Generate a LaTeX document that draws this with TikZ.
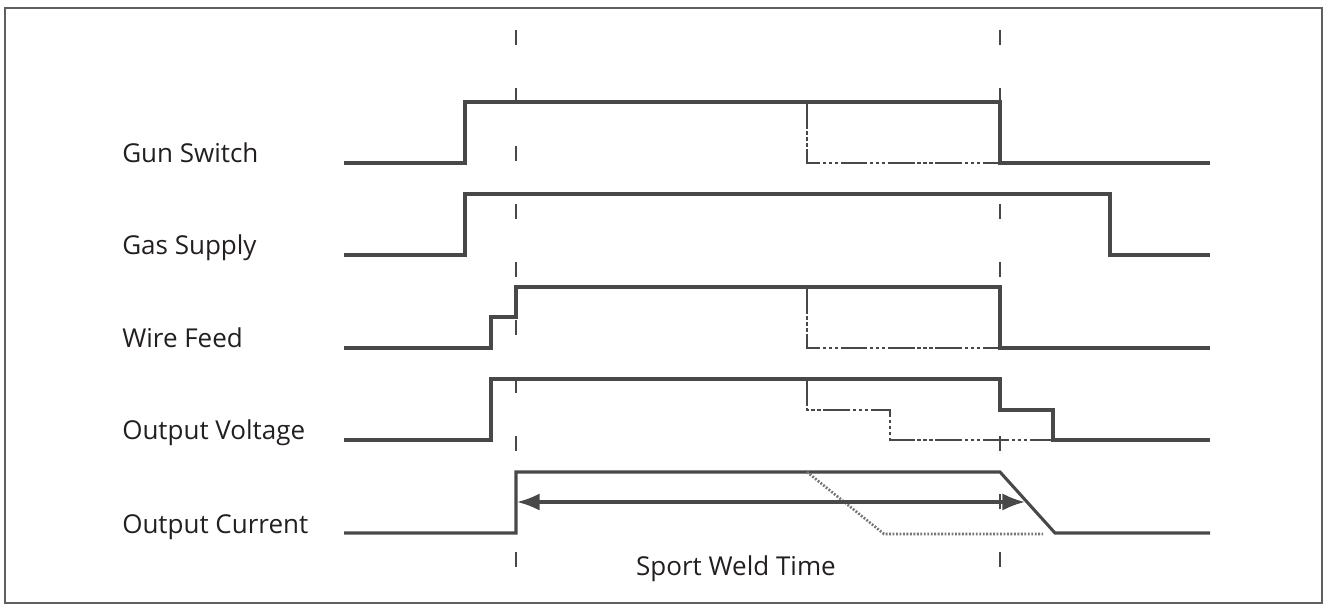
\documentclass[tikz,border=0pt]{standalone}
\usepackage{fontspec}
\setmainfont{Open Sans}
\usepackage{tikz}
\usetikzlibrary{arrows.meta}
\definecolor{sigdark}{RGB}{72, 72, 72}
\definecolor{framegray}{RGB}{95, 95, 95}
\definecolor{textdark}{RGB}{35, 31, 32}

\begin{document}
\begin{tikzpicture}[x=0.75pt, y=-0.75pt,
  signal/.style={sigdark, line width=2.3pt},
  alt/.style={sigdark, line width=2pt, dash pattern=on 20pt off 2pt on 2.5pt off 2pt on 2.5pt off 2pt on 2.5pt off 2pt},
  altdot/.style={sigdark!75, line width=2pt, dash pattern=on 1.4pt off 1.2pt},
  marker/.style={sigdark, line width=1.6pt, dash pattern=on 11.25pt off 32.25pt},
  lbl/.style={anchor=base west, inner sep=0pt, textdark, font=\fontsize{19.5}{22}\selectfont}]
\useasboundingbox (0,0) rectangle (1328,609);
% Frame
\draw[framegray, line width=0.8pt] (5,8) rectangle (1322,603);

% Timing markers
\draw[marker] (516,30) -- (516,567);
\draw[marker] (1000,30) -- (1000,567);

% Labels
\node[lbl] (gunlbl) at (122,163) {Gun Switch};
\node[lbl] (gaslbl) at (122,255) {Gas Supply};
\node[lbl] (wirelbl) at (122,348) {Wire Feed};
\node[lbl] (voltlbl) at (122,440) {Output Voltage};
\node[lbl] (currlbl) at (122,533) {Output Current};

% Gun switch
\draw[signal] (344,163) -- (465,163) -- (465,102) -- (1000,102) -- (1000,163) -- (1210,163);
\draw[alt] (807,102) -- (807,163) -- (1000,163);

% Gas supply
\draw[signal] (344,255) -- (465,255) -- (465,194) -- (1110,194) -- (1110,255) -- (1210,255);

% Wire feed
\draw[signal] (344,348) -- (491,348) -- (491,317) -- (516,317) -- (516,287) -- (1000,287) -- (1000,348) -- (1210,348);
\draw[alt] (807,287) -- (807,348) -- (1000,348);

% Output voltage
\draw[signal] (344,440) -- (491,440) -- (491,379) -- (1000,379) -- (1000,410) -- (1053,410) -- (1053,440) -- (1210,440);
\draw[alt] (807,379) -- (807,410) -- (890,410) -- (890,440) -- (1053,440);

% Output current
\draw[signal] (344,533) -- (516,533) -- (516,472) -- (1000,472) -- (1055,533) -- (1210,533);
\draw[altdot] (807,472) -- (884,534) -- (1043,534);

% Weld time
\coordinate (tstart) at (517,502);
\coordinate (tend) at (1025,502);
\draw[sigdark, line width=2.3pt, {Latex[length=17pt, width=13pt]}-{Latex[length=17pt, width=13pt]}] (tstart) -- (tend);
\node[textdark, anchor=base, inner sep=0pt, font=\fontsize{19.5}{22}\selectfont] (weldlbl) at (736,575) {Sport Weld Time};
\end{tikzpicture}
\end{document}
